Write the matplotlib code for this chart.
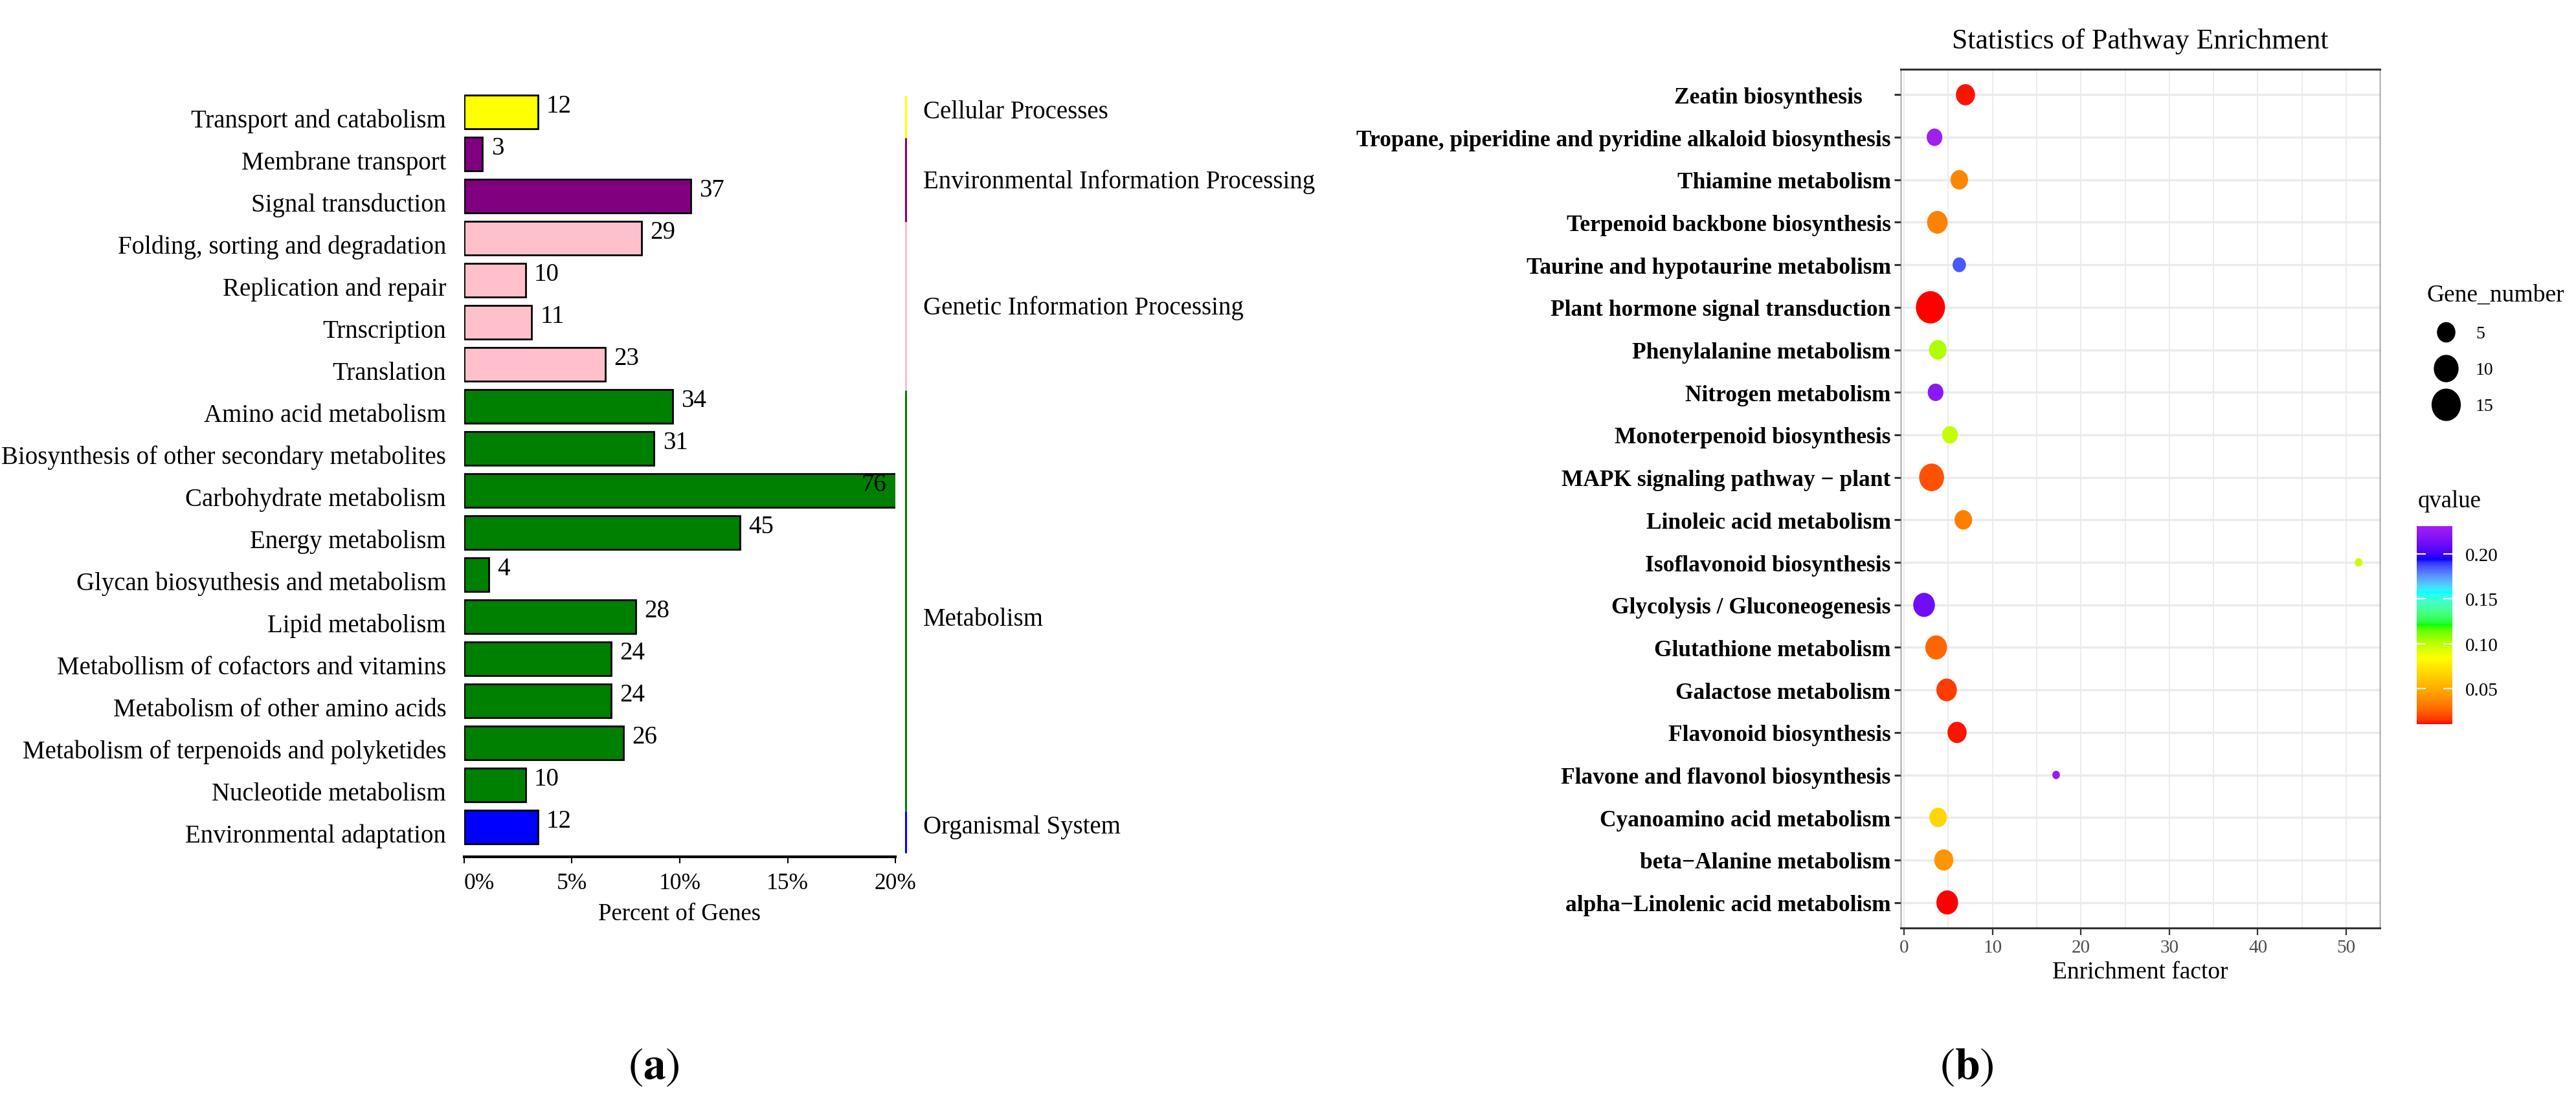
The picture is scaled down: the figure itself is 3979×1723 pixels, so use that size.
import numpy as np
import matplotlib
matplotlib.use('Agg')
import matplotlib.pyplot as plt
from matplotlib.path import Path
from matplotlib.transforms import Affine2D, ScaledTranslation
from matplotlib.colors import ListedColormap, Normalize, to_rgb
from matplotlib.cm import ScalarMappable
from matplotlib.lines import Line2D

plt.rcParams['font.family'] = ['Liberation Serif', 'DejaVu Serif']
plt.rcParams['mathtext.fontset'] = 'stix'

# ---- (a) KEGG classification ----
kegg_terms = [
    'Transport and catabolism', 'Membrane transport', 'Signal transduction',
    'Folding, sorting and degradation', 'Replication and repair', 'Trnscription',
    'Translation', 'Amino acid metabolism', 'Biosynthesis of other secondary metabolites',
    'Carbohydrate metabolism', 'Energy metabolism', 'Glycan biosyuthesis and metabolism',
    'Lipid metabolism', 'Metabollism of cofactors and vitamins',
    'Metabolism of other amino acids', 'Metabolism of terpenoids and polyketides',
    'Nucleotide metabolism', 'Environmental adaptation',
]
kegg_genes = [12, 3, 37, 29, 10, 11, 23, 34, 31, 76, 45, 4, 28, 24, 24, 26, 10, 12]
kegg_class = ['Cellular Processes'] + ['Environmental Information Processing'] * 2 \
    + ['Genetic Information Processing'] * 4 + ['Metabolism'] * 10 + ['Organismal System']
total_genes = 352
class_names = ['Cellular Processes', 'Environmental Information Processing',
               'Genetic Information Processing', 'Metabolism', 'Organismal System']
class_colors = ['yellow', 'purple', 'pink', 'green', 'blue']
pct_ticks = [0, 5, 10, 15, 20]

# ---- (b) KEGG enrichment ----
pathways = [
    'Zeatin biosynthesis     ',
    'Tropane, piperidine and pyridine alkaloid biosynthesis',
    'Thiamine metabolism', 'Terpenoid backbone biosynthesis',
    'Taurine and hypotaurine metabolism', 'Plant hormone signal transduction',
    'Phenylalanine metabolism', 'Nitrogen metabolism', 'Monoterpenoid biosynthesis',
    'MAPK signaling pathway \u2212 plant', 'Linoleic acid metabolism',
    'Isoflavonoid biosynthesis', 'Glycolysis / Gluconeogenesis',
    'Glutathione metabolism', 'Galactose metabolism', 'Flavonoid biosynthesis',
    'Flavone and flavonol biosynthesis', 'Cyanoamino acid metabolism',
    'beta\u2212Alanine metabolism', 'alpha\u2212Linolenic acid metabolism',
]
rich_factor = [6.95, 3.45, 6.25, 3.77, 6.25, 2.99, 3.83, 3.57, 5.2, 3.12,
               6.71, 51.4, 2.27, 3.64, 4.82, 6.0, 17.2, 3.86, 4.5, 4.89]
gene_number = [6, 4, 5, 7, 3, 16, 5, 4, 4, 11, 5, 2, 8, 8, 7, 6, 2, 5, 6, 8]
qvalue = [0.012, 0.231, 0.037, 0.035, 0.185, 0.0103, 0.102, 0.222, 0.098, 0.021,
          0.034, 0.0965, 0.212, 0.026, 0.017, 0.012, 0.226, 0.068, 0.042, 0.0103]
q_colours = ['red', 'orange', 'yellow', 'lime', 'cyan', 'blue', '#A020F0']
size_legend = [5, 10, 15]
q_ticks = [0.05, 0.10, 0.15, 0.20]

W, H = 3980, 1724
fig = plt.figure(figsize=(W / 100, H / 100), dpi=100)


def fx(px):
    return px / W


def fy(py):
    return 1 - py / H


# --- Lab-space gradient (like ggplot's scale_colour_gradientn) ---
WHITE = np.array([0.95047, 1.0, 1.08883])
M = np.array([[0.4124564, 0.3575761, 0.1804375],
              [0.2126729, 0.7151522, 0.0721750],
              [0.0193339, 0.1191920, 0.9503041]])
D = 6 / 29


def rgb2lab(rgb):
    c = np.where(rgb <= 0.04045, rgb / 12.92, ((rgb + 0.055) / 1.055) ** 2.4)
    xyz = c @ M.T / WHITE
    f = np.where(xyz > D ** 3, np.cbrt(xyz), xyz / (3 * D ** 2) + 4 / 29)
    return np.stack([116 * f[..., 1] - 16, 500 * (f[..., 0] - f[..., 1]),
                     200 * (f[..., 1] - f[..., 2])], axis=-1)


def lab2rgb(lab):
    fy_ = (lab[..., 0] + 16) / 116
    f = np.stack([fy_ + lab[..., 1] / 500, fy_, fy_ - lab[..., 2] / 200], axis=-1)
    xyz = np.where(f > D, f ** 3, 3 * D ** 2 * (f - 4 / 29)) * WHITE
    c = xyz @ np.linalg.inv(M).T
    c = np.clip(c, 0, 1)
    return np.clip(np.where(c <= 0.0031308, 12.92 * c, 1.055 * c ** (1 / 2.4) - 0.055), 0, 1)


stops = rgb2lab(np.array([to_rgb(c) for c in q_colours]))
t = np.linspace(0, 1, 256)
pos = np.linspace(0, 1, len(q_colours))
lab_line = np.stack([np.interp(t, pos, stops[:, k]) for k in range(3)], axis=-1)
qcmap = ListedColormap(lab2rgb(lab_line))

# ======================= panel (a) =======================
ax1 = fig.add_axes([fx(717), fy(1325), fx(666), 1183.5 / H])
pct = [g / total_genes * 100 for g in kegg_genes]
cmap_cls = dict(zip(class_names, class_colors))
ypos = np.arange(len(kegg_terms))
ax1.barh(ypos, pct, height=0.8, color=[cmap_cls[c] for c in kegg_class],
         edgecolor='black', linewidth=2)
ax1.set_xlim(0, 20)
ax1.set_ylim(17.71, -0.5)
for y, p, g in zip(ypos, pct, kegg_genes):
    if p > 20:
        ax1.text(19.6, y, str(g), ha='right', va='baseline', fontsize=28)
    else:
        ax1.text(p + 0.4, y, str(g), ha='left', va='baseline', fontsize=28)

ax1.set_yticks(ypos, kegg_terms, fontsize=28)
ax1.tick_params(axis='y', length=0, pad=20)
down = ScaledTranslation(0, -0.09, fig.dpi_scale_trans)
for lab in ax1.get_yticklabels():
    lab.set_transform(lab.get_transform() + down)
ax1.set_xticks(pct_ticks, [f'{t}%' for t in pct_ticks], fontsize=25.5)
ax1.get_xticklabels()[0].set_horizontalalignment('left')
ax1.tick_params(axis='x', length=7, width=1.5, pad=10)
for s in ['top', 'right', 'left']:
    ax1.spines[s].set_visible(False)
ax1.spines['bottom'].set_linewidth(3)
ax1.set_xlabel('Percent of Genes', fontsize=26.5, labelpad=10)

# class brackets on the right
for name, col in zip(class_names, class_colors):
    idx = [i for i, c in enumerate(kegg_class) if c == name]
    ax1.plot([1.024, 1.024], [idx[0] - 0.38, idx[-1] + 0.62], color=col, lw=2.2,
             transform=ax1.get_yaxis_transform(), clip_on=False, solid_capstyle='butt')
    shift = 0.15 * (len(idx) > 1) + 0.4 * (len(idx) > 5)
    ax1.text(1.0646, np.mean(idx) + shift, name, fontsize=28,
             va='center', ha='left', transform=ax1.get_yaxis_transform())

# ======================= panel (b) =======================
ax2 = fig.add_axes([fx(2936), fy(1435), fx(740), 1327 / H])
qnorm = Normalize(vmin=min(qvalue), vmax=max(qvalue))
gmin, gmax = min(gene_number), max(gene_number)


def point_size(n):
    # area scale like ggplot: smallest -> 13 px, largest -> 50 px (height)
    d = 13 + 37 * np.sqrt((np.asarray(n, dtype=float) - gmin) / (gmax - gmin))
    return (d * 0.72) ** 2


ell = Path.unit_circle().transformed(Affine2D().scale(0.9, 1.0))
ax2.scatter(rich_factor, np.arange(len(pathways)), s=point_size(gene_number),
            c=qvalue, cmap=qcmap, norm=qnorm, marker=ell, linewidths=0, zorder=3)
ax2.set_xlim(-0.366, 53.8)
ax2.set_ylim(len(pathways) - 0.4, -0.6)
ax2.set_yticks(np.arange(len(pathways)), pathways, fontsize=25.5, fontweight='bold')
ax2.set_xticks(np.arange(0, 51, 10))
ax2.set_xticks(np.arange(5, 51, 10), minor=True)
ax2.tick_params(axis='y', length=7, width=2.2, color='#333333', pad=4)
ax2.tick_params(axis='x', which='major', length=8, width=1.6, color='#333333',
                labelsize=21, labelcolor='#4D4D4D', pad=4)
ax2.tick_params(axis='x', which='minor', length=0)
ax2.grid(axis='x', which='both', color='#EBEBEB', lw=1.3)
ax2.grid(axis='y', which='major', color='#EBEBEB', lw=2.4)
ax2.set_axisbelow(True)
for s in ['top', 'bottom']:
    ax2.spines[s].set_linewidth(2.2)
    ax2.spines[s].set_color('#333333')
for s in ['left', 'right']:
    ax2.spines[s].set_linewidth(1)
    ax2.spines[s].set_color('#888888')
ax2.set_xlabel('Enrichment factor', fontsize=27, labelpad=6)
fig.text(fx(3306), fy(64), 'Statistics of Pathway Enrichment', fontsize=31.5,
         ha='center', va='center')

# size legend
handles = [Line2D([], [], ls='none', marker=ell, color='black',
                  markersize=np.sqrt(point_size(v))) for v in size_legend]
leg = ax2.legend(handles, [str(v) for v in size_legend], title='Gene_number',
                 loc='upper left', bbox_to_anchor=(fx(3735), fy(425)),
                 bbox_transform=fig.transFigure, frameon=False, fontsize=20,
                 title_fontsize=27, alignment='left', borderpad=0,
                 labelspacing=1.1, handlelength=2.1, handletextpad=0.6)

# qvalue colour bar
cax = fig.add_axes([fx(3733), fy(1120), fx(55), 306 / H])
cb = fig.colorbar(ScalarMappable(norm=qnorm, cmap=qcmap), cax=cax)
cb.outline.set_visible(False)
cb.set_ticks(q_ticks, labels=[f'{t:.2f}' for t in q_ticks])
cax.tick_params(left=True, right=True, direction='in', color='white', width=1.5,
                length=10, labelsize=21, pad=14)
fig.text(fx(3735), fy(775), 'qvalue', fontsize=26.5, ha='left', va='center')

# panel tags
fig.text(fx(1010), fy(1650), r'$(\mathbf{a})$', fontsize=50, ha='center', va='center')
fig.text(fx(3038), fy(1650), r'$(\mathbf{b})$', fontsize=50, ha='center', va='center')

fig.savefig('out.png', dpi=100)
